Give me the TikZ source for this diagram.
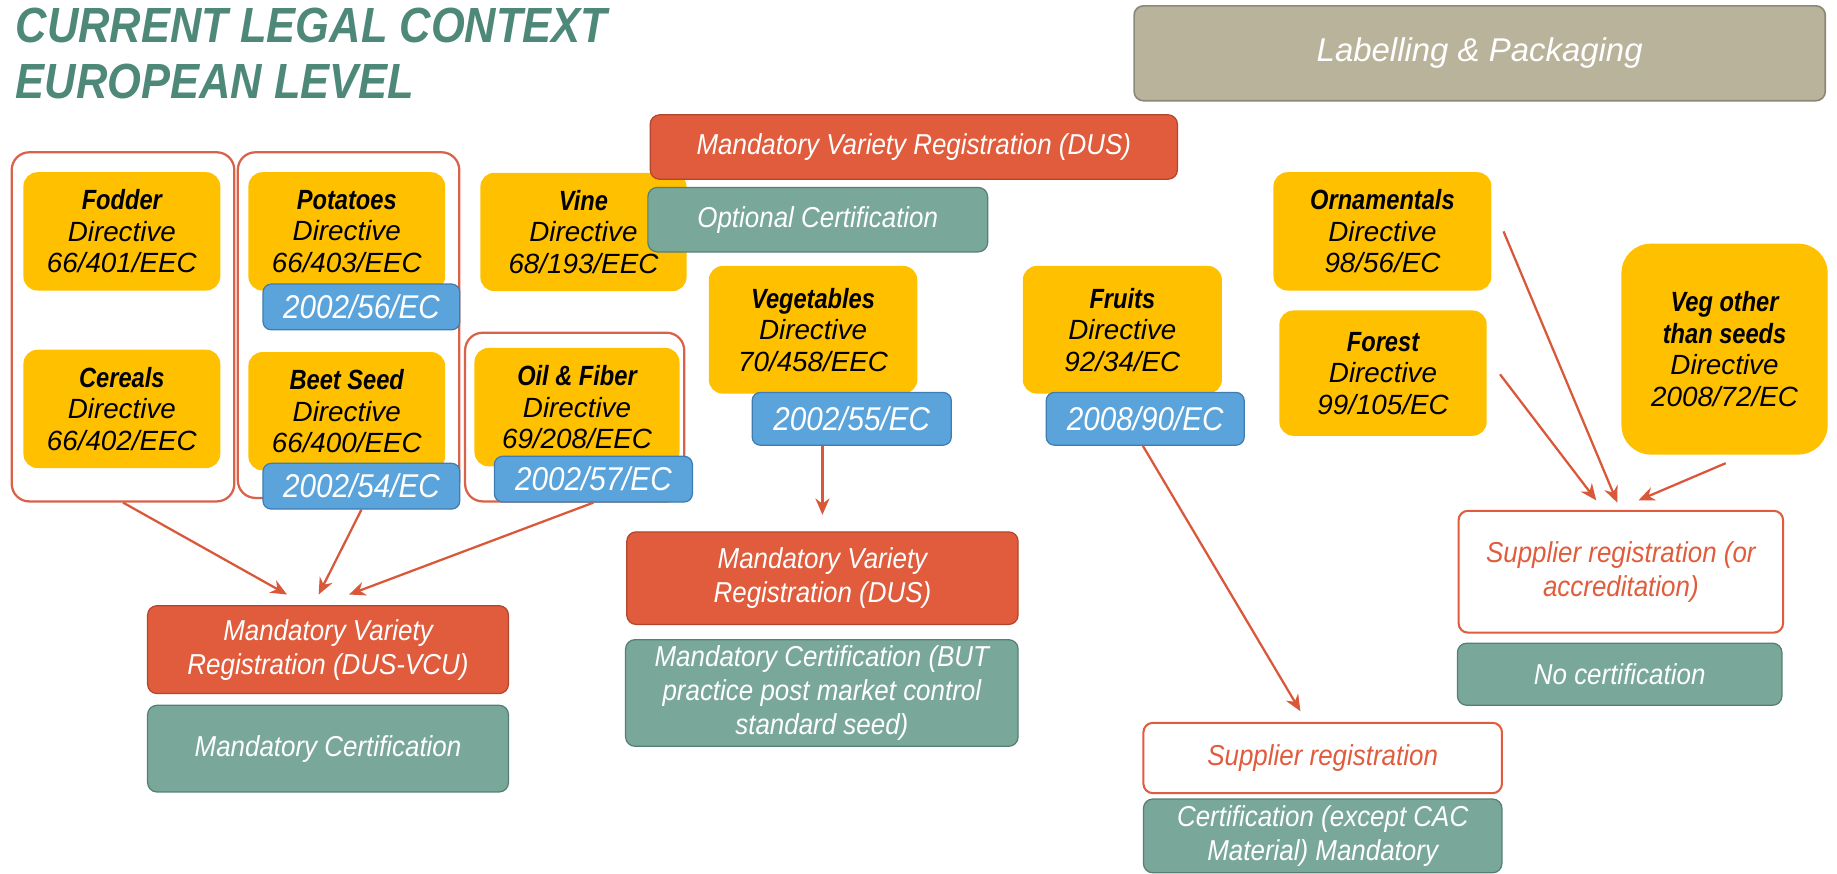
\documentclass[tikz,border=0pt]{standalone}
\usepackage{fontspec}
\setmainfont{Liberation Sans}
\newfontfamily\condfont[FakeStretch=0.9]{Liberation Sans}
\newfontfamily\namefont[FakeStretch=0.85]{Liberation Sans}
\newfontfamily\headfont[FakeStretch=0.88]{Liberation Sans}
\usepackage{xcolor}
\usetikzlibrary{positioning, arrows.meta, calc}

\definecolor{gold}{HTML}{FFC000}
\definecolor{skyfill}{HTML}{5BA4DB}
\definecolor{skyedge}{HTML}{3E7CB1}
\definecolor{brick}{HTML}{E05C3C}
\definecolor{brickedge}{HTML}{B4452C}
\definecolor{sage}{HTML}{79A89A}
\definecolor{sageedge}{HTML}{557F72}
\definecolor{grpred}{HTML}{D9634A}
\definecolor{arrred}{HTML}{D9583A}
\definecolor{headgreen}{HTML}{4E8878}
\definecolor{khaki}{HTML}{BAB39B}
\definecolor{khakiedge}{HTML}{8C8878}

\newcommand{\crop}[1]{{\namefont\bfseries #1}}

\begin{document}
\begin{tikzpicture}[x=0.2mm, y=-0.2mm,
    dirbox/.style={rectangle, rounded corners=2.4mm, fill=gold, text=black, align=center,
        font=\fontsize{13.5}{15.3}\selectfont\itshape, minimum width=33.6mm, minimum height=20.2mm, inner sep=0pt},
    amendbox/.style={rectangle, rounded corners=1.4mm, fill=skyfill, draw=skyedge, line width=0.6pt, text=white,
        font=\condfont\fontsize{16}{18}\selectfont\itshape, minimum width=33.6mm, minimum height=7.8mm, inner sep=0pt},
    regbox/.style={rectangle, rounded corners=1.6mm, fill=brick, draw=brickedge, line width=0.6pt, text=white, align=center,
        font=\condfont\fontsize{14}{16.5}\selectfont\itshape, inner sep=0pt},
    certbox/.style={regbox, fill=sage, draw=sageedge},
    supbox/.style={regbox, fill=white, draw=brick, line width=1pt, text=brick},
    groupbox/.style={rectangle, draw=grpred, line width=1.1pt, rounded corners=3mm, inner sep=0pt},
    flow/.style={-{Stealth[length=2.8mm, width=2.4mm]}, draw=arrred, line width=1.1pt},
    headline/.style={anchor=base west, inner sep=0pt, text=headgreen, font=\headfont\fontsize{24}{27}\selectfont\bfseries\itshape}]

    \useasboundingbox (0,0) rectangle (1568,746);

    % heading
    \node[headline] (head1) at (13,36) {CURRENT LEGAL CONTEXT};
    \node[headline] (head2) at (13,84) {EUROPEAN LEVEL};
    \node[rectangle, rounded corners=1.6mm, fill=khaki, draw=khakiedge, line width=0.8pt, text=white,
        font=\fontsize{16}{18}\selectfont\itshape, minimum width=118mm, minimum height=16.2mm] (label) at (1263,45.5) {Labelling \& Packaging};

    % groups
    \node[groupbox, minimum width=38mm, minimum height=59.6mm] (grpcereal) at (105,279) {};
    \node[groupbox, minimum width=37.8mm, minimum height=59mm] (grpbeet) at (297.5,277.5) {};
    \node[groupbox, minimum width=37.4mm, minimum height=28.8mm] (grpoil) at (490.5,356) {};

    % directives
    \node[dirbox] (fodder) at (104,197.5) {\crop{Fodder}\\Directive\\66/401/EEC};
    \node[dirbox] (cereal) at (104,349) {\crop{Cereals}\\Directive\\66/402/EEC};
    \node[dirbox] (potato) at (296,197.5) {\crop{Potatoes}\\Directive\\66/403/EEC};
    \node[dirbox] (beet) at (296,351) {\crop{Beet Seed}\\Directive\\66/400/EEC};
    \node[dirbox, minimum width=35.2mm] (vine) at (498,198) {\crop{Vine}\\Directive\\68/193/EEC};
    \node[dirbox, minimum width=35mm] (oil) at (492.5,347.5) {\crop{Oil \& Fiber}\\Directive\\69/208/EEC};
    \node[dirbox, minimum width=35.6mm, minimum height=21.8mm] (veg) at (694,281.5) {\crop{Vegetables}\\Directive\\70/458/EEC};
    \node[dirbox, minimum width=34mm, minimum height=21.8mm] (fruit) at (958,281.5) {\crop{Fruits}\\Directive\\92/34/EC};
    \node[dirbox, minimum width=37.2mm] (orn) at (1180,197.5) {\crop{Ornamentals}\\Directive\\98/56/EC};
    \node[dirbox, minimum width=35.4mm, minimum height=21.4mm] (forest) at (1180.5,318.5) {\crop{Forest}\\Directive\\99/105/EC};
    \node[dirbox, rounded corners=5mm, minimum width=35.2mm, minimum height=36mm] (vegother) at (1472,298)
        {\crop{Veg other}\\\crop{than seeds}\\Directive\\2008/72/EC};

    % amendments
    \node[amendbox] (potato56) at (308.5,262) {2002/56/EC};
    \node[amendbox] (beet54) at (308.5,415) {2002/54/EC};
    \node[amendbox, minimum width=33.8mm] (oil57) at (506.5,409) {2002/57/EC};
    \node[amendbox, minimum width=34mm, minimum height=9mm] (veg55) at (727,357.5) {2002/55/EC};
    \node[amendbox, minimum width=33.8mm, minimum height=9mm] (fruit90) at (977.5,357.5) {2008/90/EC};

    % regimes
    \node[regbox, minimum width=90mm, minimum height=11mm] (dustop) at (780,125.5) {Mandatory Variety Registration (DUS)};
    \node[certbox, minimum width=58mm, minimum height=11mm] (opttop) at (698,187.5) {Optional Certification};
    \node[regbox, minimum width=61.6mm, minimum height=15mm] (dusvcu) at (280,554.5) {Mandatory Variety\\Registration (DUS-VCU)};
    \node[certbox, minimum width=61.6mm, minimum height=14.8mm] (mandcert) at (280,639) {Mandatory Certification};
    \node[regbox, minimum width=66.8mm, minimum height=15.8mm] (dusveg) at (702,493.5) {Mandatory Variety\\Registration (DUS)};
    \node[certbox, minimum width=67mm, minimum height=18.2mm] (butcert) at (701.5,591.5)
        {Mandatory Certification (BUT\\practice post market control\\standard seed)};
    \node[supbox, minimum width=61.2mm, minimum height=12mm] (supreg) at (1129,647) {Supplier registration};
    \node[certbox, minimum width=61.2mm, minimum height=12.6mm] (cacert) at (1129,713.5) {Certification (except CAC\\Material) Mandatory};
    \node[supbox, minimum width=55.4mm, minimum height=20.8mm] (supacc) at (1383.5,488) {Supplier registration (or\\accreditation)};
    \node[certbox, minimum width=55.4mm, minimum height=10.6mm] (nocert) at (1382.5,575.5) {No certification};

    % arrows
    \draw[flow] (grpcereal.south) -- ($(dusvcu.north)+(-35,-9)$);
    \draw[flow] (beet54.south) -- ($(dusvcu.north)+(-8,-9)$);
    \draw[flow] (oil57.south) -- ($(dusvcu.north)+(18,-9)$);
    \draw[flow] (veg55.south -| dusveg.north) -- ($(dusveg.north)+(0,-14)$);
    \draw[flow] ($(fruit90.south)+(-2,0)$) -- ($(supreg.north)+(-19,-9)$);
    \draw[flow] ($(orn.east)+(10,0)$) -- ($(supacc.north)+(-3,-6)$);
    \draw[flow] ($(forest.east)+(11,1)$) -- ($(supacc.north)+(-21,-8)$);
    \draw[flow] ($(vegother.south)+(1,7)$) -- ($(supacc.north)+(15,-8)$);
\end{tikzpicture}
\end{document}
